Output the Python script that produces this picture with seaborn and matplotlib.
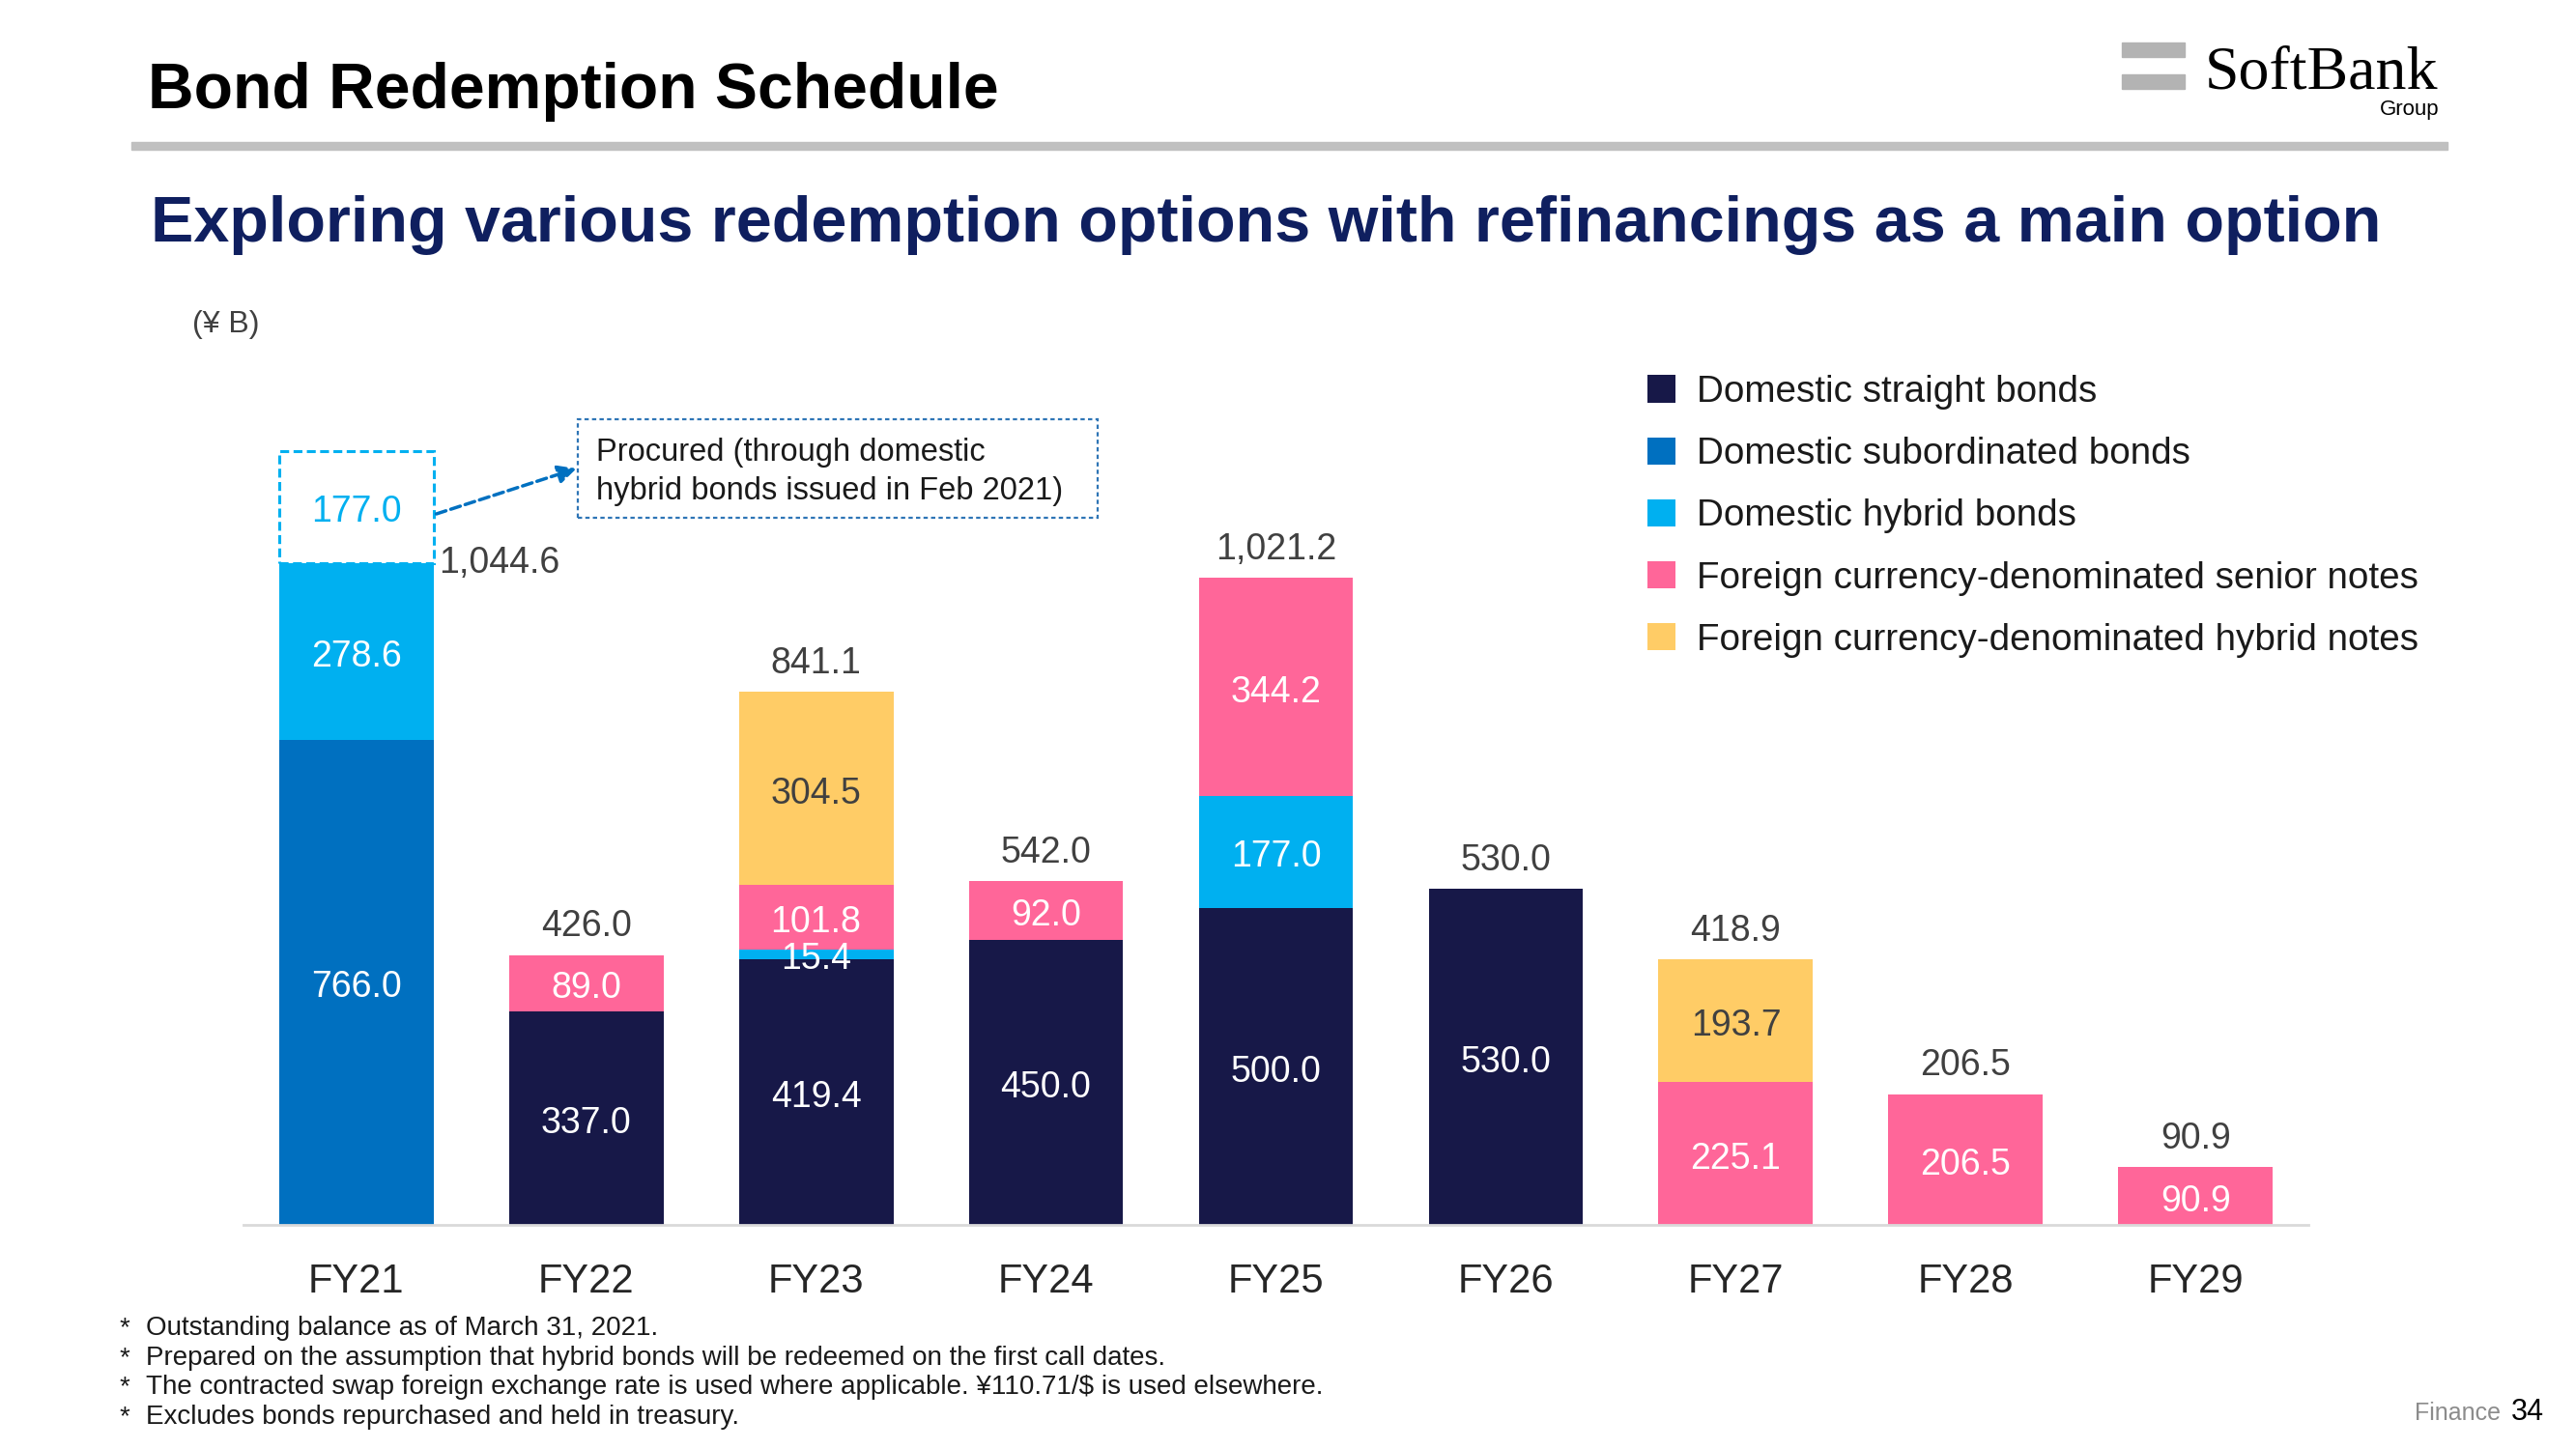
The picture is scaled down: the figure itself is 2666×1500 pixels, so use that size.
import numpy as np
import pandas as pd
import matplotlib
matplotlib.use("Agg")
import matplotlib.pyplot as plt
import seaborn as sns
from matplotlib.patches import Rectangle, Patch

# data (¥ B)
fiscal_years = ["FY21", "FY22", "FY23", "FY24", "FY25", "FY26", "FY27", "FY28", "FY29"]
dom_straight = [0, 337.0, 419.4, 450.0, 500.0, 530.0, 0, 0, 0]
dom_subordinated = [766.0, 0, 0, 0, 0, 0, 0, 0, 0]
dom_hybrid = [278.6, 0, 15.4, 0, 177.0, 0, 0, 0, 0]
fx_senior = [0, 89.0, 101.8, 92.0, 344.2, 0, 225.1, 206.5, 90.9]
fx_hybrid = [0, 0, 304.5, 0, 0, 0, 193.7, 0, 0]
totals = [1044.6, 426.0, 841.1, 542.0, 1021.2, 530.0, 418.9, 206.5, 90.9]
procured_fy21 = 177.0

series_names = ["Domestic straight bonds", "Domestic subordinated bonds", "Domestic hybrid bonds",
                "Foreign currency-denominated senior notes", "Foreign currency-denominated hybrid notes"]
series_colors = ["#171848", "#0070c0", "#00b0f0", "#ff6699", "#ffcc66"]
label_colors = ["white", "white", "white", "white", "#404040"]

df = pd.DataFrame({"year": fiscal_years})
for name, vals in zip(series_names, [dom_straight, dom_subordinated, dom_hybrid, fx_senior, fx_hybrid]):
    df[name] = vals

sns.set_theme(style="white")
plt.rcParams["font.family"] = ["Liberation Sans", "DejaVu Sans"]

W, H = 2666, 1500
fig = plt.figure(figsize=(W / 100, H / 100), dpi=100)
fx = lambda px: px / W
fy = lambda py: 1 - py / H

ax = fig.add_axes([fx(252), fy(1268), fx(2389) - fx(252), 968 / H])
bar_w = 0.672

bottom = np.zeros(len(df))
for name, col, lc in zip(series_names, series_colors, label_colors):
    vals = df[name].to_numpy()
    sns.barplot(data=df, x="year", y=name, color=col, saturation=1, width=bar_w,
                errorbar=None, bottom=bottom, linewidth=0, edgecolor="none", ax=ax)
    for i, v in enumerate(vals):
        if v > 0:
            ax.annotate(f"{v:.1f}", (i, bottom[i] + v / 2), xytext=(0, -4),
                        textcoords="offset points", ha="center", va="center",
                        fontsize=27, color=lc)
    bottom = bottom + vals

# totals
for i, t in enumerate(totals):
    if i == 0:
        ax.annotate(f"{t:,.1f}", (i + bar_w / 2, t), xytext=(4, 0), textcoords="offset points",
                    ha="left", va="center", fontsize=27, color="#404040")
    else:
        ax.annotate(f"{t:,.1f}", (i, bottom[i]), xytext=(0, 21), textcoords="offset points",
                    ha="center", va="center", fontsize=27, color="#404040")

# already procured part of FY21
ax.add_patch(Rectangle((-bar_w / 2, totals[0]), bar_w, procured_fy21, fill=False,
                       edgecolor="#00b0f0", linestyle=(0, (3, 1.5)), linewidth=2.2, clip_on=False))
ax.annotate(f"{procured_fy21:.1f}", (0, totals[0] + procured_fy21 / 2), xytext=(0, -4),
            textcoords="offset points", ha="center", va="center", fontsize=27, color="#00b0f0")

# callout box
px2x = lambda px: (px - 369) / 238
py2y = lambda py: (1268 - py) / 0.656
ax.add_patch(Rectangle((px2x(598), py2y(536)), px2x(1136) - px2x(598), py2y(434) - py2y(536),
                       fill=False, edgecolor="#2e75b6", linestyle=(0, (2, 1.5)), linewidth=1.6,
                       clip_on=False))
ax.text(px2x(617), py2y(468), "Procured (through domestic", ha="left", va="center",
        fontsize=23.5, color="#1a1a1a")
ax.text(px2x(617), py2y(509), "hybrid bonds issued in Feb 2021)", ha="left", va="center",
        fontsize=23.5, color="#1a1a1a")
ax.annotate("", xy=(px2x(597), py2y(485)), xytext=(px2x(452), py2y(532)),
            arrowprops=dict(arrowstyle="-|>", linestyle=(0, (3, 1.5)), color="#0070c0",
                            lw=2.5, mutation_scale=28, shrinkA=0, shrinkB=0))

ax.set_xlim(-0.49, 8.49)
ax.set_ylim(0, 968 / 0.656)
for s in ["top", "right", "left"]:
    ax.spines[s].set_visible(False)
ax.spines["bottom"].set_color("#d9d9d9")
ax.spines["bottom"].set_linewidth(2)
ax.set_yticks([])
ax.set_xlabel("")
ax.set_ylabel("")
ax.tick_params(axis="x", length=0, pad=28, labelsize=30, labelcolor="#262626")

# legend
handles = [Patch(facecolor=c, edgecolor="none", label=n) for n, c in zip(series_names, series_colors)]
fig.legend(handles=handles, loc="upper left", bbox_to_anchor=(fx(1705), fy(388)),
           bbox_transform=fig.transFigure, frameon=False, fontsize=27.8, borderpad=0,
           borderaxespad=0, handlelength=0.75, handleheight=0.75, handletextpad=0.57,
           labelspacing=0.73, labelcolor="#1a1a1a")

# header
fig.text(fx(153), fy(112), "Bond Redemption Schedule", fontsize=47.5, fontweight="bold",
         color="black", ha="left", va="baseline")
fig.add_artist(Rectangle((fx(136), fy(155)), fx(2533) - fx(136), 8 / H, color="#c0c0c0",
                         transform=fig.transFigure))
fig.text(fx(156), fy(250), "Exploring various redemption options with refinancings as a main option",
         fontsize=47.8, fontweight="bold", color="#0f1f5f", ha="left", va="baseline")
fig.text(fx(199), fy(336), "(¥ B)", fontsize=23, color="#404040", ha="left", va="center")

# logo
fig.add_artist(Rectangle((fx(2196), fy(59)), fx(2261) - fx(2196), 15 / H, color="#b3b3b3",
                         transform=fig.transFigure))
fig.add_artist(Rectangle((fx(2196), fy(92)), fx(2261) - fx(2196), 15 / H, color="#b3b3b3",
                         transform=fig.transFigure))
fig.text(fx(2523), fy(92), "SoftBank", fontsize=46, family=["Liberation Serif", "DejaVu Serif"],
         color="black", ha="right", va="baseline")
fig.text(fx(2525), fy(119), "Group", fontsize=16, color="black", ha="right", va="baseline")

# footnotes
notes = ["Outstanding balance as of March 31, 2021.",
         "Prepared on the assumption that hybrid bonds will be redeemed on the first call dates.",
         "The contracted swap foreign exchange rate is used where applicable. ¥110.71/$ is used elsewhere.",
         "Excludes bonds repurchased and held in treasury."]
for note, py in zip(notes, [1375, 1406, 1436, 1467]):
    fig.text(fx(124), fy(py), "*", fontsize=20, color="#1a1a1a", ha="left", va="center")
    fig.text(fx(151), fy(py), note, fontsize=20, color="#1a1a1a", ha="left", va="center")

fig.text(fx(2588), fy(1470), "Finance", fontsize=18, color="#8c8c8c", ha="right", va="baseline")
fig.text(fx(2633), fy(1470), "34", fontsize=22, color="black", ha="right", va="baseline")

fig.savefig("out.png", dpi=100, facecolor="white")
